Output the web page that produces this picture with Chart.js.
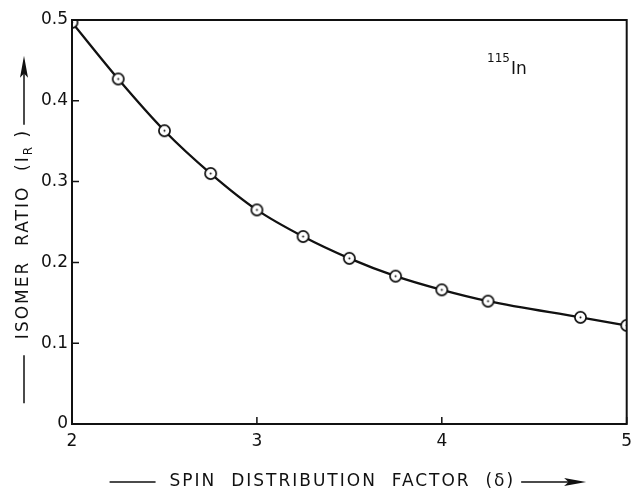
<!DOCTYPE html>
<html>
<head>
<meta charset="utf-8">
<script src="https://cdn.jsdelivr.net/npm/chart.js@4.4.1/dist/chart.umd.min.js"></script>
<style>
  html, body { margin: 0; padding: 0; background: #fff; }
  #wrap { width: 635px; height: 489px; }
</style>
</head>
<body>
<div id="wrap"><canvas id="chart" width="635" height="489"></canvas></div>
<script>
// spin distribution factor (x) vs isomer ratio I_R (y)
const spinFactor = [2.0, 2.25, 2.5, 2.75, 3.0, 3.25, 3.5, 3.75, 4.0, 4.25, 4.75, 5.0];
const isomerRatio = [0.497, 0.427, 0.363, 0.310, 0.265, 0.232, 0.205, 0.183, 0.166, 0.152, 0.132, 0.122];
const xTicks = [2, 3, 4, 5];
const yTicks = [0, 0.1, 0.2, 0.3, 0.4, 0.5];

const FONT = "DejaVu Sans";
const INK = "#111";

// open circle with a dot in the middle
function makeMarker() {
    const c = document.createElement("canvas");
    c.width = 15; c.height = 15;
    const g = c.getContext("2d");
    g.beginPath();
    g.arc(7.5, 7.5, 5.6, 0, Math.PI * 2);
    g.fillStyle = "#fff";
    g.fill();
    g.lineWidth = 1.7;
    g.strokeStyle = INK;
    g.stroke();
    g.beginPath();
    g.arc(7.5, 7.5, 1, 0, Math.PI * 2);
    g.fillStyle = INK;
    g.fill();
    return c;
}

function arrowHead(ctx, x, y, dx, dy) {
    // tip at (x,y), pointing along (dx,dy)
    const len = 22, half = 4;
    const px = -dy, py = dx;
    ctx.beginPath();
    ctx.moveTo(x, y);
    ctx.lineTo(x - dx * len + px * half, y - dy * len + py * half);
    ctx.lineTo(x - dx * len * 0.8, y - dy * len * 0.8);
    ctx.lineTo(x - dx * len - px * half, y - dy * len - py * half);
    ctx.closePath();
    ctx.fill();
}

const decorations = {
    id: "decorations",
    afterDraw(chart) {
        const { ctx, chartArea: a, scales } = chart;
        ctx.save();
        ctx.strokeStyle = INK;
        ctx.fillStyle = INK;

        // frame
        ctx.lineWidth = 2;
        ctx.strokeRect(a.left, a.top, a.right - a.left, a.bottom - a.top);

        // inward tick marks
        ctx.lineWidth = 1.5;
        ctx.beginPath();
        scales.y.ticks.forEach(t => {
            const py = scales.y.getPixelForValue(t.value);
            ctx.moveTo(a.left, py);
            ctx.lineTo(a.left + 7, py);
        });
        scales.x.ticks.forEach(t => {
            const px = scales.x.getPixelForValue(t.value);
            ctx.moveTo(px, a.bottom);
            ctx.lineTo(px, a.bottom - 7);
        });
        ctx.stroke();

        ctx.letterSpacing = "2px";

        // x axis title
        const ty = 482;
        ctx.font = `17px ${FONT}`;
        ctx.textBaseline = "middle";
        ctx.textAlign = "left";
        const xTitle = "SPIN  DISTRIBUTION  FACTOR  (δ)";
        const tw = ctx.measureText(xTitle).width;
        const cx = (a.left + a.right) / 2 - 7;
        const tx = cx - tw / 2;
        ctx.fillText(xTitle, tx, ty);
        ctx.lineWidth = 1.5;
        ctx.beginPath();
        ctx.moveTo(tx - 60, ty);
        ctx.lineTo(tx - 14, ty);
        ctx.moveTo(tx + tw + 6, ty);
        ctx.lineTo(tx + tw + 66, ty);
        ctx.stroke();
        arrowHead(ctx, tx + tw + 71, ty, 1, 0);

        // y axis title (rotated)
        ctx.save();
        const yc = (a.top + a.bottom) / 2 + 12;
        ctx.translate(24, yc);
        ctx.rotate(-Math.PI / 2);
        const main = "ISOMER  RATIO  (I";
        ctx.font = `17px ${FONT}`;
        const w1 = ctx.measureText(main).width;
        ctx.font = `12px ${FONT}`;
        const w2 = ctx.measureText("R").width;
        ctx.font = `17px ${FONT}`;
        const w3 = ctx.measureText(" )").width;
        const total = w1 + w2 + w3;
        let sx = -total / 2;
        ctx.fillText(main, sx, 0);
        ctx.font = `12px ${FONT}`;
        ctx.fillText("R", sx + w1, 5);
        ctx.font = `17px ${FONT}`;
        ctx.fillText(" )", sx + w1 + w2, 0);
        ctx.beginPath();
        ctx.moveTo(sx - 64, 0);
        ctx.lineTo(sx - 16, 0);
        ctx.moveTo(sx + total + 4, 0);
        ctx.lineTo(sx + total + 68, 0);
        ctx.stroke();
        arrowHead(ctx, sx + total + 73, 0, 1, 0);
        ctx.restore();

        // nuclide label
        ctx.letterSpacing = "0px";
        ctx.textBaseline = "alphabetic";
        ctx.font = `12px ${FONT}`;
        const sup = "115";
        const sw = ctx.measureText(sup).width;
        const lx = 487;
        ctx.fillText(sup, lx, 62);
        ctx.font = `17px ${FONT}`;
        ctx.fillText("In", lx + sw + 1, 74);

        ctx.restore();
    }
};

new Chart(document.getElementById("chart"), {
    type: "line",
    data: {
        datasets: [{
            data: spinFactor.map((x, i) => ({ x, y: isomerRatio[i] })),
            borderColor: INK,
            borderWidth: 2.3,
            cubicInterpolationMode: "monotone",
            pointStyle: makeMarker(),
            pointRadius: 6,
            clip: 0,
            fill: false
        }]
    },
    options: {
        responsive: false,
        animation: false,
        events: [],
        layout: { padding: { top: 20, right: 8, left: 0, bottom: 0 } },
        plugins: { legend: { display: false }, tooltip: { enabled: false } },
        scales: {
            x: {
                type: "linear",
                min: 2, max: 5,
                afterFit: s => { s.height = 65; s.paddingRight = 0; s.paddingLeft = 0; },
                afterBuildTicks: s => { s.ticks = xTicks.map(value => ({ value })); },
                grid: { display: false, drawTicks: false },
                border: { display: true, color: INK, width: 2 },
                ticks: { color: INK, font: { family: FONT, size: 17 }, padding: 7 }
            },
            y: {
                min: 0, max: 0.5,
                afterFit: s => { s.width = 72; s.paddingTop = 0; s.paddingBottom = 0; },
                afterBuildTicks: s => { s.ticks = yTicks.map(value => ({ value })); },
                grid: { display: false, drawTicks: false },
                border: { display: true, color: INK, width: 2 },
                ticks: { color: INK, font: { family: FONT, size: 17 }, padding: 4 }
            }
        }
    },
    plugins: [decorations]
});
</script>
</body>
</html>
